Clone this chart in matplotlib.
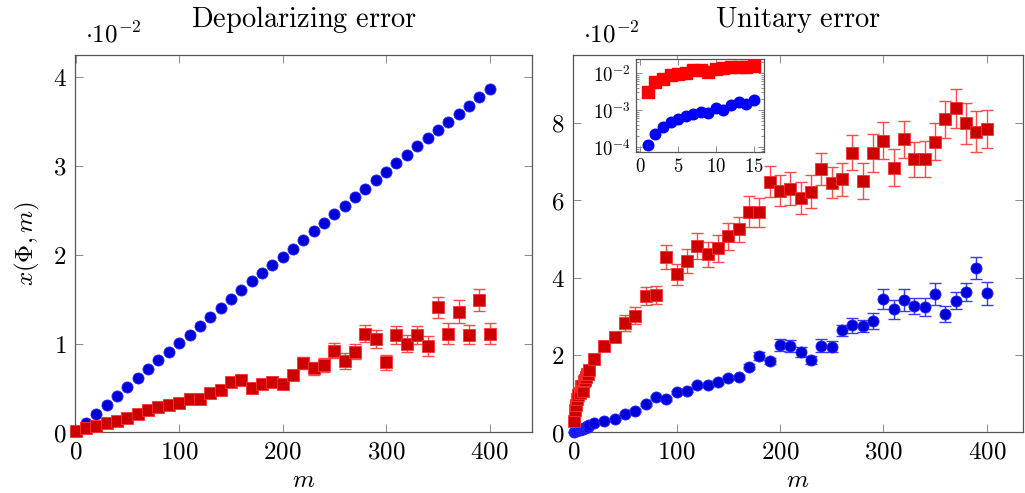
import matplotlib
matplotlib.use("Agg")
import matplotlib.pyplot as plt
import numpy as np
from matplotlib.ticker import FuncFormatter, FixedLocator, LogLocator, NullFormatter

plt.rcParams["mathtext.fontset"] = "cm"
plt.rcParams["font.family"] = ["DejaVu Serif"]

# ---------------- data (values in units of 10^-2) ----------------
m_dep = list(range(0, 401, 10))
dep_circle = [0.01, 0.11, 0.21, 0.31, 0.41, 0.51, 0.61, 0.71, 0.81, 0.91, 1.01,
              1.10, 1.20, 1.30, 1.40, 1.50, 1.60, 1.70, 1.79, 1.88, 1.98, 2.07,
              2.17, 2.27, 2.36, 2.46, 2.55, 2.65, 2.74, 2.84, 2.93, 3.03, 3.12,
              3.22, 3.31, 3.40, 3.49, 3.59, 3.68, 3.78, 3.87]
dep_square = [0.01, 0.045, 0.075, 0.10, 0.13, 0.16, 0.21, 0.25, 0.28, 0.31, 0.33,
              0.38, 0.375, 0.44, 0.48, 0.57, 0.59, 0.50, 0.54, 0.57, 0.54, 0.65,
              0.78, 0.72, 0.76, 0.92, 0.80, 0.91, 1.11, 1.05, 0.79, 1.10, 1.00,
              1.10, 0.97, 1.41, 1.11, 1.36, 1.10, 1.49, 1.11]
dep_square_err = [0.005, 0.008, 0.01, 0.012, 0.014, 0.016, 0.018, 0.02, 0.022, 0.024,
                  0.026, 0.028, 0.03, 0.032, 0.035, 0.038, 0.04, 0.042, 0.045, 0.048,
                  0.05, 0.055, 0.07, 0.075, 0.08, 0.085, 0.09, 0.085, 0.095, 0.10,
                  0.085, 0.10, 0.10, 0.10, 0.11, 0.118, 0.116, 0.13, 0.11, 0.125, 0.12]

m_uni = list(range(1, 16)) + list(range(20, 401, 10))
uni_square = [0.30, 0.57, 0.70, 0.86, 0.97, 1.02, 1.19, 1.20, 1.08, 1.32, 1.35, 1.44,
              1.50, 1.50, 1.60,
              1.89, 2.24, 2.47, 2.83, 3.01, 3.52, 3.55, 4.54, 4.08, 4.43, 4.81, 4.60,
              4.75, 5.06, 5.25, 5.70, 5.68, 6.48, 6.24, 6.30, 6.06, 6.22, 6.80, 6.45,
              6.54, 7.23, 6.49, 7.21, 7.54, 6.84, 7.57, 7.06, 7.06, 7.51, 8.09, 8.37,
              7.98, 7.77, 7.84]
uni_square_err = [0.05, 0.06, 0.07, 0.08, 0.08, 0.09, 0.09, 0.10, 0.10, 0.10, 0.11,
                  0.11, 0.12, 0.12, 0.12,
                  0.10, 0.11, 0.13, 0.21, 0.22, 0.24, 0.24, 0.31, 0.28, 0.31, 0.33,
                  0.32, 0.34, 0.34, 0.32, 0.40, 0.37, 0.39, 0.40, 0.42, 0.42, 0.42,
                  0.42, 0.40, 0.43, 0.46, 0.47, 0.49, 0.47, 0.47, 0.48, 0.45, 0.47,
                  0.48, 0.48, 0.50, 0.52, 0.52, 0.50]
uni_circle = [0.0115, 0.023, 0.034, 0.047, 0.056, 0.069, 0.079, 0.088, 0.085, 0.115,
              0.101, 0.136, 0.166, 0.144, 0.184,
              0.23, 0.30, 0.34, 0.47, 0.56, 0.72, 0.90, 0.86, 1.03, 1.08, 1.22, 1.21,
              1.31, 1.40, 1.42, 1.70, 1.98, 1.85, 2.26, 2.23, 2.08, 1.87, 2.24, 2.21,
              2.64, 2.76, 2.75, 2.88, 3.44, 3.18, 3.42, 3.26, 3.23, 3.57, 3.05, 3.40,
              3.63, 4.24, 3.59]
uni_circle_err = [0.003, 0.004, 0.005, 0.006, 0.007, 0.008, 0.009, 0.010, 0.010, 0.012,
                  0.012, 0.013, 0.014, 0.014, 0.015,
                  0.02, 0.02, 0.02, 0.03, 0.03, 0.03, 0.03, 0.04, 0.04, 0.04, 0.04,
                  0.04, 0.05, 0.05, 0.05, 0.06, 0.10, 0.08, 0.15, 0.15, 0.13, 0.11,
                  0.16, 0.14, 0.14, 0.20, 0.16, 0.21, 0.26, 0.24, 0.28, 0.21, 0.23,
                  0.29, 0.21, 0.22, 0.24, 0.29, 0.29]
n_inset = 15
scale = 1e-2

titles = ["Depolarizing error", "Unitary error"]

# ---------------- styling ----------------
FS = 18
FS_TITLE = 20.5
BLUE_FILL, BLUE_EDGE, BLUE_ERR = "#0000d8", "#2a2aff", "#3a3aee"
RED_FILL, RED_EDGE, RED_ERR = "#cc0000", "#ff3030", "#ff4a4a"
SPINE = "#555555"
TICK = "#8a8a8a"

fmt = FuncFormatter(lambda v, p: r"$%g$" % v)


def style_axes(ax, fs=FS):
    for s in ax.spines.values():
        s.set_color(SPINE)
        s.set_linewidth(0.9)
    ax.tick_params(which="both", direction="in", top=True, right=True,
                   color=TICK, width=0.7, labelsize=fs)
    ax.tick_params(which="major", length=6, pad=6)
    ax.tick_params(which="minor", length=3)


def circles(ax, x, y, err=None, ms=8.0, fill=BLUE_FILL, edge=BLUE_EDGE):
    if err is not None:
        ax.errorbar(x, y, yerr=err, fmt="none", ecolor=BLUE_ERR, elinewidth=1.0,
                    capsize=4.2, capthick=1.0, zorder=2, clip_on=False)
    ax.plot(x, y, "o", ms=ms, mfc=fill, mec=edge, mew=0.6, ls="none",
            zorder=3, clip_on=False)


def squares(ax, x, y, err=None, ms=8.0, fill=RED_FILL, edge=RED_EDGE):
    if err is not None:
        ax.errorbar(x, y, yerr=err, fmt="none", ecolor=RED_ERR, elinewidth=1.0,
                    capsize=4.2, capthick=1.0, zorder=2, clip_on=False)
    ax.plot(x, y, "s", ms=ms, mfc=fill, mec=edge, mew=0.6, ls="none",
            zorder=4, clip_on=False)


W, H = 1025, 493
fig = plt.figure(figsize=(W / 100, H / 100), dpi=100)

ax1 = fig.add_axes([75 / W, (H - 432.3) / H, (532 - 75) / W, (432.3 - 55) / H])
ax2 = fig.add_axes([573 / W, (H - 432.3) / H, (1023 - 573) / W, (432.3 - 55) / H])

# left panel
circles(ax1, m_dep, dep_circle)
squares(ax1, m_dep, dep_square, dep_square_err)
ax1.set_xlim(-0.7, 441)
ax1.set_ylim(0, 4.25)
ax1.xaxis.set_major_locator(FixedLocator([0, 100, 200, 300, 400]))
ax1.yaxis.set_major_locator(FixedLocator([0, 1, 2, 3, 4]))
ax1.set_ylabel(r"$x(\Phi, m)$", fontsize=FS, labelpad=8)

# right panel
circles(ax2, m_uni, uni_circle, uni_circle_err)
squares(ax2, m_uni, uni_square, uni_square_err)
ax2.set_xlim(-0.3, 435)
ax2.set_ylim(0, 9.75)
ax2.xaxis.set_major_locator(FixedLocator([0, 100, 200, 300, 400]))
ax2.yaxis.set_major_locator(FixedLocator([0, 2, 4, 6, 8]))

for ax, t in zip((ax1, ax2), titles):
    style_axes(ax)
    ax.xaxis.set_major_formatter(fmt)
    ax.yaxis.set_major_formatter(fmt)
    ax.set_xlabel(r"$m$", fontsize=FS, labelpad=4)
    ax.set_title(r"$\mathrm{%s}$" % t.replace(" ", r"\ "), fontsize=FS_TITLE, pad=20)
    ax.text(0.022, 1.034, r"$\cdot 10^{-2}$", transform=ax.transAxes,
            fontsize=FS, va="baseline", ha="left")

# inset: first points of the unitary-error series on a log scale
axi = fig.add_axes([636 / W, (H - 152.3) / H, (763.5 - 636) / W, (152.3 - 59) / H])
m_in = m_uni[:n_inset]
axi.plot(m_in, np.array(uni_circle[:n_inset]) * scale, "o", ms=7.6,
         mfc="#0000ff", mec="#0000ff", ls="none", zorder=3, clip_on=False)
axi.plot(m_in, np.array(uni_square[:n_inset]) * scale, "s", ms=8.0,
         mfc="#ff0000", mec="#ff0000", ls="none", zorder=4, clip_on=False)
axi.set_yscale("log")
axi.set_ylim(10 ** -4.14, 10 ** -1.62)
axi.set_xlim(-0.57, 16.3)
axi.xaxis.set_major_locator(FixedLocator([0, 5, 10, 15]))
axi.xaxis.set_major_formatter(fmt)
axi.yaxis.set_major_locator(FixedLocator([1e-4, 1e-3, 1e-2]))
axi.yaxis.set_major_formatter(
    FuncFormatter(lambda v, p: r"$10^{%d}$" % int(round(np.log10(v)))))
axi.yaxis.set_minor_locator(LogLocator(base=10, subs=np.arange(2, 10)))
axi.yaxis.set_minor_formatter(NullFormatter())
style_axes(axi, fs=13.5)
axi.tick_params(which="major", length=4, pad=4)
axi.tick_params(which="minor", length=2.5)
axi.set_facecolor("white")

fig.savefig("out.png", dpi=100)
